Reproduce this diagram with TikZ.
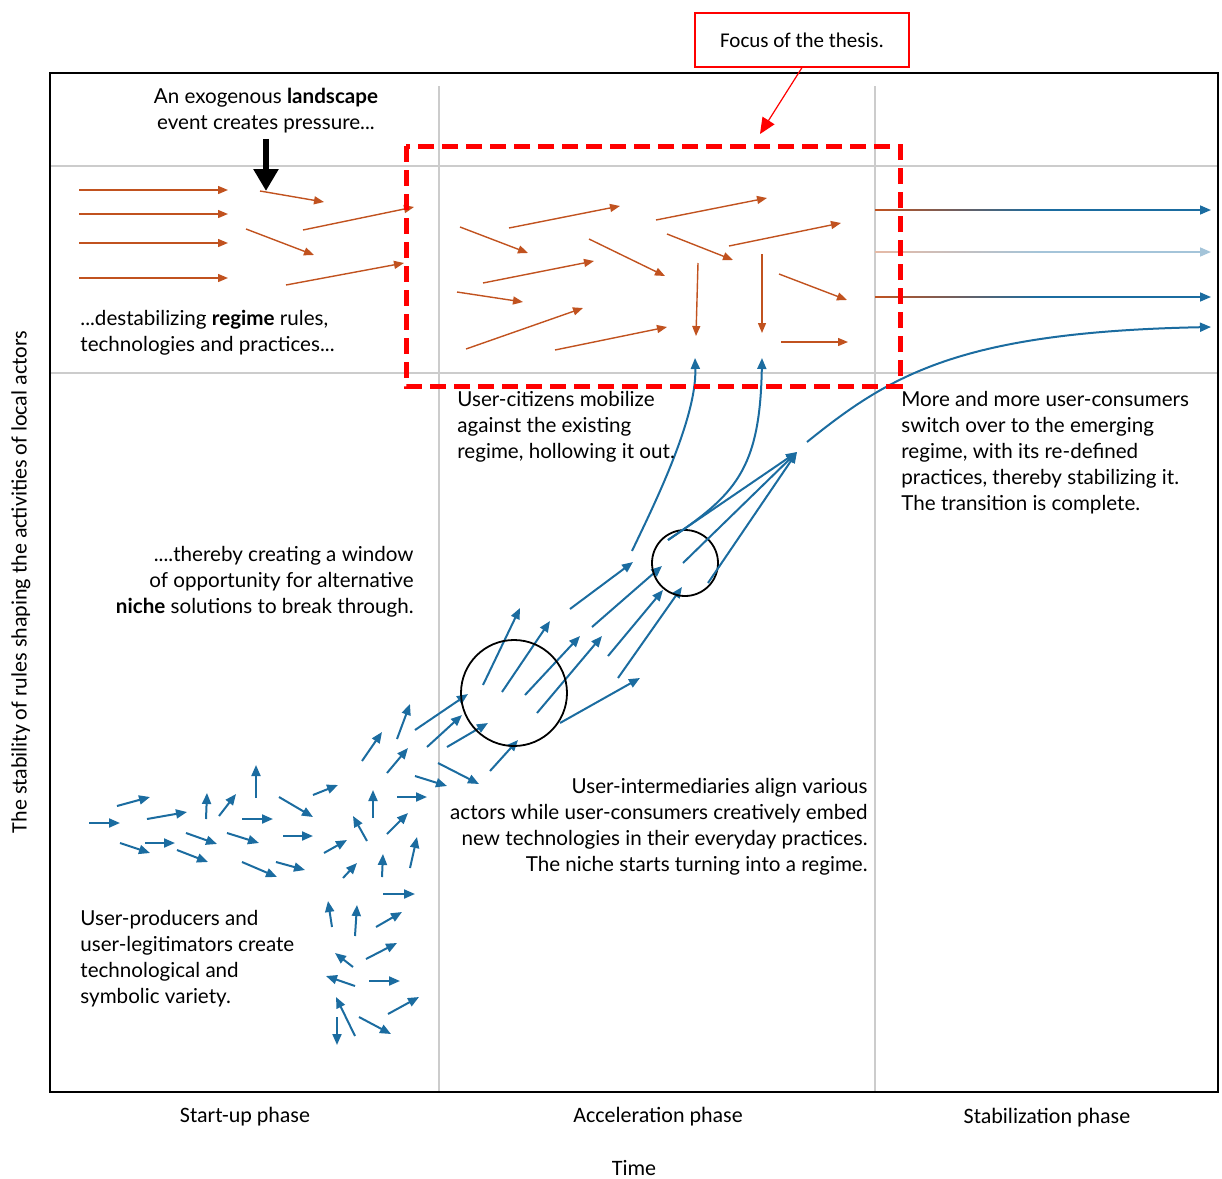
\documentclass[tikz,border=0pt]{standalone}
\usepackage{fontspec}
\setmainfont{Lato}
\newfontfamily\calibri{Carlito}
\usetikzlibrary{arrows.meta}
\definecolor{regimec}{RGB}{193,82,31}
\definecolor{nichec}{RGB}{27,108,160}

\begin{document}
\begin{tikzpicture}[x=0.5pt,y=-0.5pt]
\tikzstyle{every node}+=[inner sep=0pt]
\tikzstyle{txt}=[font=\fontsize{10.3}{13}\selectfont]
\tikzstyle{lbl}=[font=\calibri\fontsize{11}{13}\selectfont]
\tikzstyle{regime}=[draw=regimec, line width=0.7pt, -{Triangle[length=5pt,width=4pt]}]
\tikzstyle{niche}=[draw=nichec, line width=1pt, -{Triangle[length=5.5pt,width=4.5pt]}]
\tikzstyle{grid}=[draw=black!20, line width=0.6pt]
\useasboundingbox (0,0) rectangle (1222,1179);
% frame and phases
\draw [grid] (439,86) -- (439,1092);
\draw [grid] (875,86) -- (875,1092);
\draw [grid] (50,166) -- (1218,166);
\draw [grid] (50,373) -- (1218,373);
\draw [black, line width=1pt] (50,73) rectangle (1218,1092);
\node [lbl] (startup) at (245,1117) {Start-up phase};
\node [lbl] (accel) at (658,1117) {Acceleration phase};
\node [lbl] (stab) at (1047,1118) {Stabilization phase};
\node [lbl] (time) at (634,1168) {Time};
\node [lbl, rotate=90] (yaxis) at (21,582) {The stability of rules shaping the activities of local actors};
% landscape
\node [txt, align=center] (landscape) at (266,111) {An exogenous \textbf{landscape}\\event creates pressure...};
\coordinate (hit) at (266,191);
\draw [black, line width=3pt, -{Triangle[length=11pt,width=12pt]}] (landscape.south) ++(0,5) -- (hit);
% regime arrows, start-up
\draw [regime] (79,190) -- (228,190);
\draw [regime] (79,214) -- (228,214);
\draw [regime] (79,243) -- (228,243);
\draw [regime] (79,278) -- (228,278);
\draw [regime] (260,191) -- (324,202);
\draw [regime] (246,229) -- (314,255);
\draw [regime] (303,230) -- (414,207);
\draw [regime] (286,285) -- (404,263);
\node [txt, anchor=west, align=left] (destab) at (80,333) {...destabilizing \textbf{regime} rules,\\technologies and practices...};
% regime arrows, acceleration
\draw [regime] (460,227) -- (528,253);
\draw [regime] (509,228) -- (620,206);
\draw [regime] (483,283) -- (594,261);
\draw [regime] (457,292) -- (523,302);
\draw [regime] (466,349) -- (583,308);
\draw [regime] (555,350) -- (667,327);
\draw [regime] (589,239) -- (665,276);
\draw [regime] (656,220) -- (767,198);
\draw [regime] (667,234) -- (733,260);
\draw [regime] (729,246) -- (841,223);
\draw [regime] (698,263) -- (696,336);
\draw [regime] (762,254) -- (762,333);
\draw [regime] (779,274) -- (847,300);
\draw [regime] (781,342) -- (848,342);
% stabilized regime
\shade [left color=regimec, right color=nichec] (875,209.2) rectangle (1040,210.8);
\draw [niche, line width=0.8pt] (1038,210) -- (1211,210);
\shade [left color=regimec!40, right color=nichec!40] (875,251.2) rectangle (1040,252.8);
\draw [niche, line width=0.8pt, draw=nichec!40, fill=nichec!40] (1038,252) -- (1211,252);
\shade [left color=regimec, right color=nichec] (875,296.2) rectangle (1040,297.8);
\draw [niche, line width=0.8pt] (1038,297) -- (1211,297);
% niche arrows, start-up
\draw [niche] (89,823) -- (120,823);
\draw [niche] (117,806) -- (150,797);
\draw [niche] (120,843) -- (150,853);
\draw [niche] (147,819) -- (187,812);
\draw [niche] (145,843) -- (175,843);
\draw [niche] (177,850) -- (208,862);
\draw [niche] (186,833) -- (217,844);
\draw [niche] (206,819) -- (207,793);
\draw [niche] (219,816) -- (236,794);
\draw [niche] (256,798) -- (256,765);
\draw [niche] (227,833) -- (259,843);
\draw [niche] (242,819) -- (273,819);
\draw [niche] (242,862) -- (277,877);
\draw [niche] (283,836) -- (313,836);
\draw [niche] (276,862) -- (305,870);
\draw [niche] (279,797) -- (313,817);
\draw [niche] (313,795) -- (338,785);
\draw [niche] (324,853) -- (347,840);
\draw [niche] (343,878) -- (357,863);
\draw [niche] (367,841) -- (353,816);
\draw [niche] (373,818) -- (373,790);
\draw [niche] (362,761) -- (382,732);
\draw [niche] (387,773) -- (408,748);
\draw [niche] (387,834) -- (408,813);
\draw [niche] (397,797) -- (427,797);
\draw [niche] (397,739) -- (410,704);
\draw [niche] (382,877) -- (383,854);
\draw [niche] (410,868) -- (417,837);
\draw [niche] (383,894) -- (415,894);
\draw [niche] (332,927) -- (328,901);
\draw [niche] (355,936) -- (357,905);
\draw [niche] (376,927) -- (402,912);
\draw [niche] (353,967) -- (335,953);
\draw [niche] (366,959) -- (397,943);
\draw [niche] (355,986) -- (326,976);
\draw [niche] (369,981) -- (400,981);
\draw [niche] (337,1017) -- (337,1045);
\draw [niche] (355,1036) -- (336,997);
\draw [niche] (359,1017) -- (391,1034);
\draw [niche] (388,1014) -- (419,997);
% niche arrows, acceleration
\draw [niche] (415,730) -- (468,694);
\draw [niche] (427,747) -- (462,715);
\draw [niche] (447,747) -- (488,723);
\draw [niche] (438,763) -- (479,784);
\draw [niche] (415,776) -- (447,786);
\draw [niche] (490,771) -- (518,740);
\draw [niche] (483,685) -- (520,608);
\draw [niche] (502,692) -- (550,621);
\draw [niche] (525,695) -- (580,636);
\draw [niche] (537,713) -- (602,636);
\draw [niche] (560,723) -- (640,678);
\draw [niche] (570,609) -- (633,562);
\draw [niche] (592,627) -- (662,566);
\draw [niche] (608,656) -- (663,590);
\draw [niche] (618,678) -- (682,587);
\draw [black, line width=0.9pt] (514,693) circle (26.5pt);
\draw [black, line width=0.9pt] (685,563) circle (16.5pt);
% towards the regime
\coordinate (focal) at (797,452);
\draw [niche] (668,540) -- (focal);
\draw [niche] (683,563) -- (focal);
\draw [niche] (708,583) -- (focal);
\draw [niche] (632,551) .. controls (650,513) and (697,420) .. (695,358);
\draw [niche] (668,540) .. controls (735,495) and (760,470) .. (762,358);
\draw [niche] (807,442) .. controls (890,375) and (960,332) .. (1211,327);
% texts
\node [txt, anchor=east, align=right] (window) at (414,582) {....thereby creating a window\\of opportunity for alternative\\\textbf{niche} solutions to break through.};
\node [txt, anchor=west, align=left] (citizens) at (457,427) {User-citizens mobilize\\against the existing\\regime, hollowing it out.};
\node [txt, anchor=west, align=left] (consumers) at (901,453) {More and more user-consumers\\switch over to the emerging\\regime, with its re-defined\\practices, thereby stabilizing it.\\The transition is complete.};
\node [txt, anchor=east, align=right] (intermed) at (868,827) {User-intermediaries align various\\actors while user-consumers creatively embed\\new technologies in their everyday practices.\\The niche starts turning into a regime.};
\node [txt, anchor=west, align=left] (producers) at (80,959) {User-producers and\\user-legitimators create\\technological and\\symbolic variety.};
% focus of the thesis
\draw [red, line width=2.5pt, dash pattern=on 8pt off 4pt] (406,146) rectangle (900,386);
\node [draw=red, line width=0.6pt, minimum width=107pt, minimum height=27pt, font=\calibri\fontsize{10.5}{12}\selectfont] (focus) at (802,40) {Focus of the thesis.};
\coordinate (target) at (760,134);
\draw [red, line width=0.6pt, -{Triangle[length=8pt,width=7pt]}] (focus.south) -- (target);
\end{tikzpicture}
\end{document}
